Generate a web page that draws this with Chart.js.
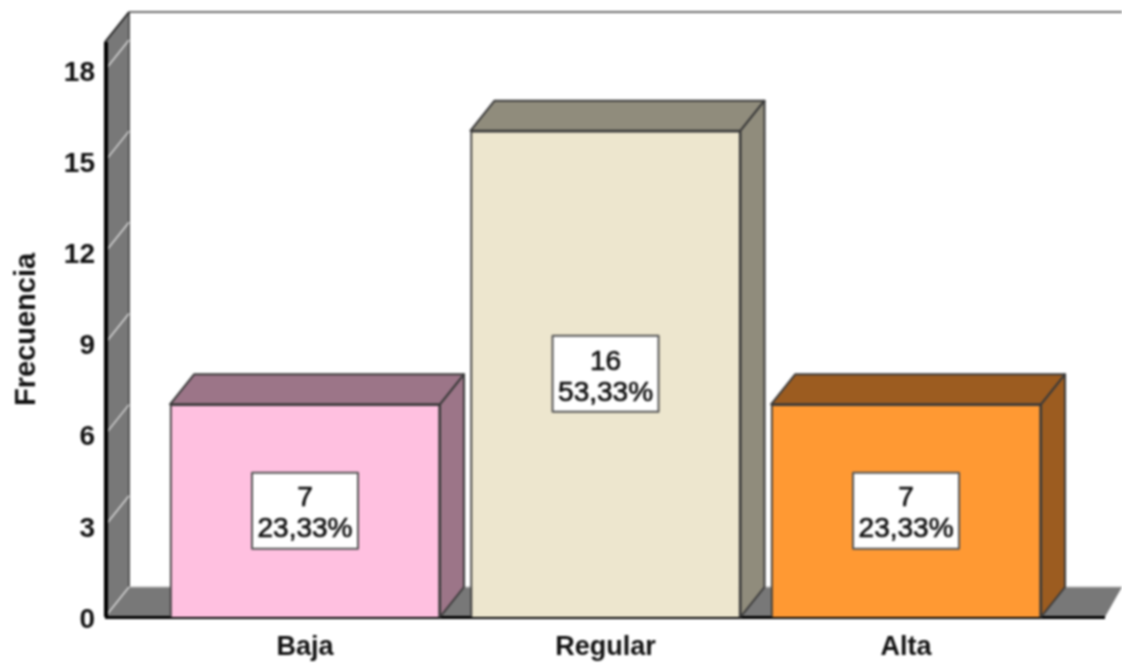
<!DOCTYPE html>
<html>
<head>
<meta charset="utf-8">
<title>Frecuencia</title>
<script src="https://cdn.jsdelivr.net/npm/chart.js@4/dist/chart.umd.min.js"></script>
<style>
  html, body { margin: 0; padding: 0; background: #fff; }
  #wrap { width: 1122px; height: 664px; }
  canvas { filter: blur(0.8px); }
</style>
</head>
<body>
<div id="wrap"><canvas id="chart" width="1122" height="664"></canvas></div>
<script>
const categories = ["Baja", "Regular", "Alta"];
const counts = [7, 16, 7];
const percents = ["23,33%", "53,33%", "23,33%"];
const yTicks = [0, 3, 6, 9, 12, 15, 18];
const frontColors = ["#ffc0e0", "#ede6ce", "#ff9933"];
const sideColors = ["#9c7588", "#908c7c", "#9c5c20"];

const DX = 24, DY = -30; // depth of the 3d box
const FONT = "'Liberation Sans', Arial, sans-serif";

function poly(ctx, pts, fill, stroke, lw){
  ctx.beginPath();
  pts.forEach((p, i) => i ? ctx.lineTo(p[0], p[1]) : ctx.moveTo(p[0], p[1]));
  ctx.closePath();
  if(fill){ ctx.fillStyle = fill; ctx.fill(); }
  if(stroke){ ctx.strokeStyle = stroke; ctx.lineWidth = lw || 1; ctx.lineJoin = "round"; ctx.stroke(); }
}
function line(ctx, x1, y1, x2, y2, color, lw){
  ctx.beginPath(); ctx.moveTo(x1, y1); ctx.lineTo(x2, y2);
  ctx.strokeStyle = color; ctx.lineWidth = lw; ctx.stroke();
}

// walls and floor behind the bars
const walls = {
  id: "walls",
  beforeDatasetsDraw(chart){
    const { ctx, chartArea: a, scales: { y } } = chart;
    ctx.save();
    const w = 1122;
    poly(ctx, [[a.left, a.bottom], [a.left + DX, a.bottom + DY], [w, a.bottom + DY], [a.right, a.bottom]], "#787878");
    poly(ctx, [[a.left, a.top], [a.left + DX, a.top + DY], [a.left + DX, a.bottom + DY], [a.left, a.bottom]], "#787878");
    line(ctx, a.left + DX, a.top + DY, w, a.top + DY, "#6e6e6e", 2);
    line(ctx, a.left + DX, a.top + DY, a.left + DX, a.bottom + DY, "#555", 2);
    line(ctx, a.left + DX, a.bottom + DY, w, a.bottom + DY, "#bbb", 1);
    line(ctx, a.left, a.top, a.left + DX, a.top + DY, "#222", 2);
    yTicks.forEach(v => {
      const py = y.getPixelForValue(v);
      line(ctx, a.left, py, a.left + DX, py + DY, "#d8d8d8", 1.5);
    });
    line(ctx, a.left + 1, a.top, a.left + 1, a.bottom, "#000", 4);
    line(ctx, a.left, a.bottom + 0.5, a.right, a.bottom + 0.5, "#000", 3);
    ctx.restore();
  }
};

// top and side faces of the boxes, and the value labels
const boxes = {
  id: "boxes",
  afterDatasetsDraw(chart){
    const { ctx } = chart;
    ctx.save();
    chart.getDatasetMeta(0).data.forEach((bar, i) => {
      const p = bar.getProps(["x", "y", "base", "width"], true);
      const l = p.x - p.width / 2, r = p.x + p.width / 2, t = p.y, b = p.base;
      const edge = "#3a3a3a";
      poly(ctx, [[l, t], [l + DX, t + DY], [r + DX, t + DY], [r, t]], sideColors[i], edge, 2);
      poly(ctx, [[r, t], [r + DX, t + DY], [r + DX, b + DY], [r, b]], sideColors[i], edge, 2);

      const cy = (t + b) / 2;
      const bw = 106, bh = 76;
      ctx.fillStyle = "#fff";
      ctx.fillRect(p.x - bw / 2, cy - bh / 2, bw, bh);
      ctx.strokeStyle = "#555"; ctx.lineWidth = 2;
      ctx.strokeRect(p.x - bw / 2, cy - bh / 2, bw, bh);
      ctx.fillStyle = "#111"; ctx.strokeStyle = "#111"; ctx.lineWidth = 0.7;
      ctx.textAlign = "center"; ctx.textBaseline = "middle";
      ctx.font = "28px " + FONT;
      ctx.fillText(String(counts[i]), p.x, cy - 12);
      ctx.strokeText(String(counts[i]), p.x, cy - 12);
      ctx.fillText(percents[i], p.x, cy + 19);
      ctx.strokeText(percents[i], p.x, cy + 19);
    });
    ctx.restore();
  }
};

new Chart(document.getElementById("chart"), {
  type: "bar",
  data: {
    datasets: [{
      data: categories.map((c, i) => ({ x: i, y: counts[i] })),
      backgroundColor: frontColors,
      borderColor: "#3a3a3a",
      borderWidth: 2,
      barThickness: 270
    }]
  },
  options: {
    responsive: false,
    animation: false,
    layout: { padding: { top: 42, right: 17, left: 0, bottom: 0 } },
    plugins: { legend: { display: false }, tooltip: { enabled: false } },
    scales: {
      x: {
        type: "linear",
        offset: false,
        min: -0.6656,
        max: 2.662,
        grid: { display: false, drawTicks: false },
        border: { display: false },
        afterFit(s){ s.height = 47; },
        afterBuildTicks(s){ s.ticks = categories.map((c, i) => ({ value: i })); },
        ticks: {
          autoSkip: false, maxRotation: 0, padding: 14, color: "#111",
          font: { family: FONT, size: 27, weight: "bold" },
          callback: v => categories[v]
        }
      },
      y: {
        min: 0,
        max: 18.92,
        grid: { display: false, drawTicks: false },
        border: { display: false },
        afterFit(s){ s.width = 105; },
        afterBuildTicks(s){ s.ticks = yTicks.map(v => ({ value: v })); },
        title: {
          display: true, text: "Frecuencia", color: "#111", padding: { top: 10, bottom: 0 },
          font: { family: FONT, size: 29, weight: "bold" }
        },
        ticks: {
          padding: 10, color: "#111", labelOffset: 3,
          font: { family: FONT, size: 28, weight: "bold" }
        }
      }
    }
  },
  plugins: [walls, boxes]
});
</script>
</body>
</html>
